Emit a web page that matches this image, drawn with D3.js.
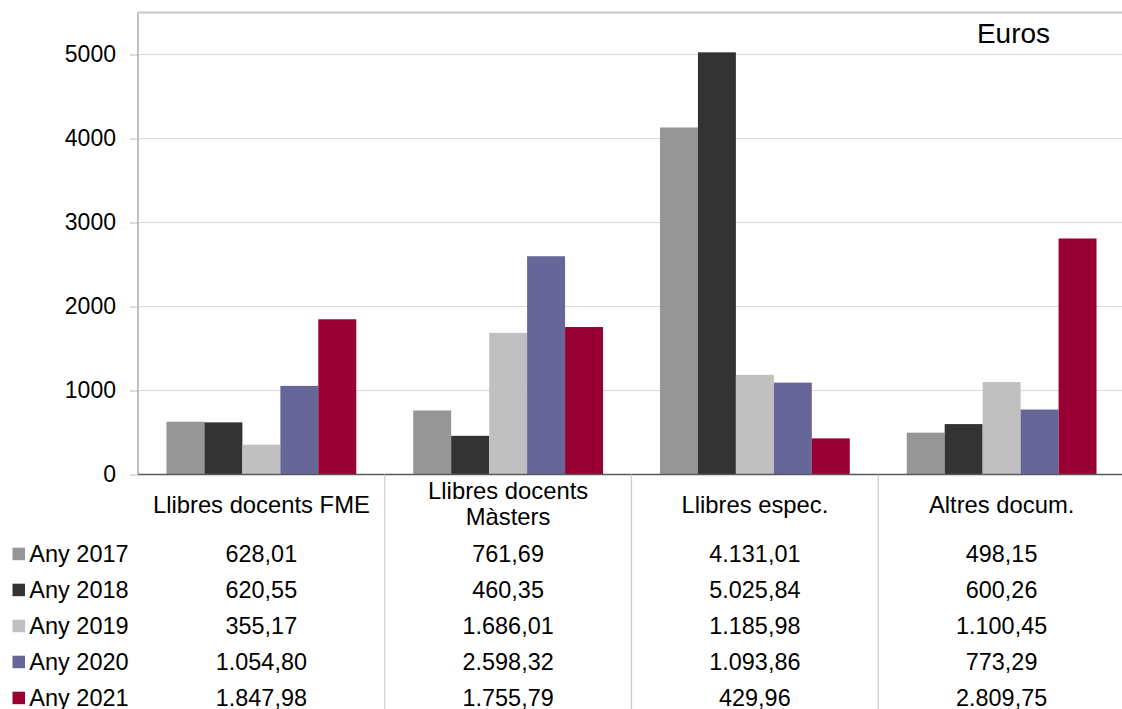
<!DOCTYPE html>
<html>
<head>
<meta charset="utf-8">
<script src="https://cdn.jsdelivr.net/npm/d3@7"></script>
<style>
  html, body { margin: 0; padding: 0; background: #fff; overflow: hidden; }
  svg { display: block; font-family: "Liberation Sans", Arial, sans-serif; }
</style>
</head>
<body>
<svg id="chart" width="1122" height="709"></svg>
<script>
// ---- Data ----
const categories = ["Llibres docents FME", "Llibres docents Màsters", "Llibres espec.", "Altres docum."];
const categoryLines = [["Llibres docents FME"], ["Llibres docents", "Màsters"], ["Llibres espec."], ["Altres docum."]];
const series = ["Any 2017", "Any 2018", "Any 2019", "Any 2020", "Any 2021"];
const values2017 = [628.01, 761.69, 4131.01, 498.15];
const values2018 = [620.55, 460.35, 5025.84, 600.26];
const values2019 = [355.17, 1686.01, 1185.98, 1100.45];
const values2020 = [1054.80, 2598.32, 1093.86, 773.29];
const values2021 = [1847.98, 1755.79, 429.96, 2809.75];
const seriesValues = [values2017, values2018, values2019, values2020, values2021];
const colors = ["#969696", "#333333", "#c0c0c0", "#666699", "#990033"];
const yTicks = [0, 1000, 2000, 3000, 4000, 5000];
const unitLabel = "Euros";

// ---- Layout ----
const svg = d3.select("#chart");
const plotLeft = 138, plotRight = 1125, plotTop = 12.5, plotBottom = 474.5;
const fontSize = 23;

const x0 = d3.scaleBand().domain(categories).range([plotLeft, plotRight]).paddingInner(0).paddingOuter(0);
const bw = x0.bandwidth();
const gap = bw * 0.1154;
const x1 = d3.scaleBand().domain(series).range([gap, bw - gap]).padding(0);
const y = d3.scaleLinear().domain([0, 5500]).range([plotBottom, plotTop]);

const loc = d3.formatLocale({ decimal: ",", thousands: ".", grouping: [3], currency: ["", "€"] });
const fmt = loc.format(",.2f");

// Gridlines
svg.append("g").selectAll("line").data(yTicks.filter(d => d > 0)).join("line")
  .attr("x1", plotLeft).attr("x2", plotRight)
  .attr("y1", d => y(d)).attr("y2", d => y(d))
  .attr("stroke", "#d9d9d9").attr("stroke-width", 1.2);

// Top border
svg.append("line").attr("x1", plotLeft).attr("x2", plotRight)
  .attr("y1", y(5500)).attr("y2", y(5500))
  .attr("stroke", "#c8c8c8").attr("stroke-width", 2);

// Y axis
const yAxis = d3.axisLeft(y).tickValues(yTicks).tickSize(8).tickPadding(14).tickFormat(d3.format("d"));
const gy = svg.append("g").attr("transform", `translate(${plotLeft},0)`).call(yAxis);
gy.select(".domain").remove();
gy.selectAll(".tick line").attr("stroke", "#c8c8c8").attr("stroke-width", 1.2);
gy.selectAll(".tick text").attr("font-size", fontSize).attr("fill", "#000")
  .attr("font-family", "'Liberation Sans', Arial, sans-serif");
svg.append("line").attr("x1", plotLeft).attr("x2", plotLeft)
  .attr("y1", y(5500)).attr("y2", plotBottom)
  .attr("stroke", "#c0c0c0").attr("stroke-width", 2);

// Bars
const groups = svg.append("g").selectAll("g").data(categories).join("g")
  .attr("transform", d => `translate(${x0(d)},0)`);
groups.selectAll("rect").data((c, ci) => series.map((s, si) => ({ s, si, v: seriesValues[si][ci] })))
  .join("rect")
  .attr("x", d => x1(d.s))
  .attr("width", x1.bandwidth())
  .attr("y", d => y(d.v))
  .attr("height", d => y(0) - y(d.v))
  .attr("fill", d => colors[d.si]);

// Zero line
svg.append("line").attr("x1", plotLeft).attr("x2", plotRight)
  .attr("y1", y(0)).attr("y2", y(0))
  .attr("stroke", "#595959").attr("stroke-width", 1.5);

// Table vertical separators
svg.append("g").selectAll("line").data(categories.slice(1)).join("line")
  .attr("x1", d => x0(d)).attr("x2", d => x0(d))
  .attr("y1", y(0)).attr("y2", 709)
  .attr("stroke", "#cccccc").attr("stroke-width", 1.2);

// Category labels
categoryLines.forEach((lines, i) => {
  const cx = x0(categories[i]) + bw / 2;
  const baselines = lines.length === 1 ? [512.7] : [499.3, 525.3];
  lines.forEach((t, j) => {
    svg.append("text").attr("x", cx).attr("y", baselines[j])
      .attr("text-anchor", "middle").attr("font-size", 23.8).attr("fill", "#000").text(t);
  });
});

// Data table rows
const rowBase = 561.7, rowStep = 36;
series.forEach((s, si) => {
  const by = rowBase + si * rowStep;
  svg.append("rect").attr("x", 12.5).attr("y", by - 14).attr("width", 12.5).attr("height", 12.5)
    .attr("fill", colors[si]);
  svg.append("text").attr("x", 29.3).attr("y", by).attr("font-size", 23.5).attr("fill", "#000").text(s);
  categories.forEach((c, ci) => {
    svg.append("text").attr("x", x0(c) + bw / 2).attr("y", by)
      .attr("text-anchor", "middle").attr("font-size", 23.4).attr("fill", "#000")
      .text(fmt(seriesValues[si][ci]));
  });
});

// Unit label
svg.append("text").attr("x", 1013.5).attr("y", 42.7).attr("text-anchor", "middle")
  .attr("font-size", 28).attr("fill", "#000").text(unitLabel);
</script>
</body>
</html>
